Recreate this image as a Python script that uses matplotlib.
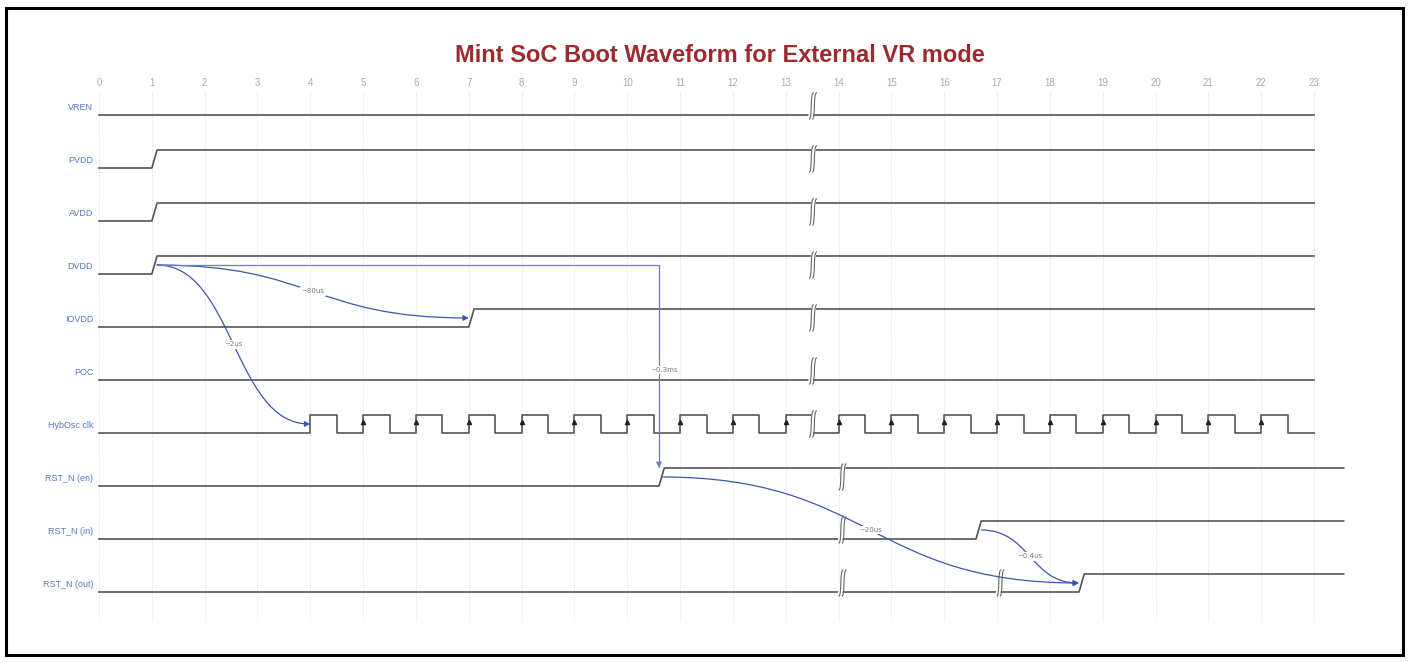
import matplotlib
matplotlib.use("Agg")
import matplotlib.pyplot as plt
from matplotlib.path import Path
from matplotlib.patches import FancyArrowPatch, Rectangle, PathPatch
import numpy as np

# signaux, du haut vers le bas
names = ["VREN", "PVDD", "AVDD", "DVDD", "IOVDD", "POC", "HybOsc clk",
         "RST_N (en)", "RST_N (in)", "RST_N (out)"]
rise_at = [None, 1.0, 1.0, 1.0, 7.0, None, None, 10.6, 16.6, 18.55]
end_at = [23, 23, 23, 23, 23, 23, 23, 23.56, 23.56, 23.56]
clk_row = 6
clk_start = 4.0
clk_stop = 23.0
ticks = list(range(0, 24))

# coupures (temps, ligne)
breaks = [(13.47, r) for r in range(7)] + [(14.03, 7), (14.03, 8), (14.03, 9), (17.02, 9)]

# fleches : (t0, ligne0, t1, ligne1, texte)
arrows = [
    (1.1, 3, 7.0, 4, "~80us"),
    (1.1, 3, 4.0, 6, "~2us"),
    (10.65, 7, 18.55, 9, "~20us"),
    (16.7, 8, 18.55, 9, "~0.4us"),
]
# fleche en equerre DVDD -> RST_N (en)
elbow = (1.1, 3, 10.6, 7, "~0.3ms")

HI = 0.34
wave_col = "#555555"
arr_col = "#3d55b0"
narrow = ["Liberation Sans Narrow", "Liberation Sans"]

fig = plt.figure(figsize=(14.1, 6.62), dpi=100)
ax = fig.add_axes([0, 0, 1, 1])
ax.set_xlim(-99 / 52.83, (1410 - 99) / 52.83)
ax.set_ylim((662 - 115) / 53.0, -115 / 53.0)
ax.axis("off")

fig.patches.append(Rectangle((6 / 1410, 7 / 662), 1397 / 1410, 647 / 662,
                             transform=fig.transFigure, fill=False,
                             lw=2.2, ec="black"))

ax.text(11.75, -1.12, "Mint SoC Boot Waveform for External VR mode",
        ha="center", va="center", fontsize=17, fontweight="bold",
        color="#9e2a30", family=narrow)

# grille
for t in ticks:
    ax.plot([t, t], [-0.43, 9.53], ls=(0, (1, 2)), lw=0.6, color="#cccccc", zorder=0)
    ax.text(t, -0.6, str(t), ha="center", va="center", fontsize=7,
            color="#aaaaaa", family=narrow)

# formes d'onde
for r, name in enumerate(names):
    ax.text(-0.11, r - 0.15, name, ha="right", va="center", fontsize=6.5,
            color="#5676c8", family=narrow)
    lo, hi = r, r - HI
    if r == clk_row:
        xs, ys = [0, clk_start], [lo, lo]
        t = clk_start
        while t < clk_stop:
            xs += [t, t + 0.5, t + 0.5, t + 1.0]
            ys += [hi, hi, lo, lo]
            t += 1.0
        ax.plot(xs, ys, color=wave_col, lw=1.2, zorder=2)
        edges = np.arange(clk_start + 1, clk_stop)
        ax.plot(edges, np.full(len(edges), r - 0.21), ls="none", marker="^",
                ms=3, color="#222222", zorder=3)
    elif rise_at[r] is None:
        ax.plot([0, end_at[r]], [lo, lo], color=wave_col, lw=1.2, zorder=2)
    else:
        t = rise_at[r]
        ax.plot([0, t, t + 0.1, end_at[r]], [lo, lo, hi, hi],
                color=wave_col, lw=1.2, zorder=2)


# coupures en forme de "S" allonge
def s_stroke(x, y0, y1):
    return Path([(x - 0.03, y0), (x + 0.04, y0), (x - 0.02, y1), (x + 0.06, y1)],
                [Path.MOVETO, Path.CURVE4, Path.CURVE4, Path.CURVE4])


for t, r in breaks:
    y0, y1 = r + 0.08, r - 0.42
    ax.fill([t - 0.04, t + 0.04, t + 0.1, t + 0.02], [y0, y1, y1, y0],
            color="white", zorder=4)
    for off in (0.0, 0.06):
        ax.add_patch(PathPatch(s_stroke(t + off, y0, y1), fill=False,
                               ec="#666666", lw=0.8, zorder=5))


def label(x, y, s):
    ax.text(x, y, s, ha="center", va="center", fontsize=5, color="#777777",
            zorder=7, bbox=dict(boxstyle="square,pad=0.15", fc="white", ec="none"))


# fleches courbes
for t0, r0, t1, r1, s in arrows:
    y0, y1 = r0 - 0.17, r1 - 0.17
    dx = (t1 - t0) * 0.5
    p = Path([(t0, y0), (t0 + dx, y0), (t1 - dx, y1), (t1, y1)],
             [Path.MOVETO, Path.CURVE4, Path.CURVE4, Path.CURVE4])
    ax.add_patch(FancyArrowPatch(path=p, arrowstyle="-|>", mutation_scale=8,
                                 color=arr_col, lw=0.9, zorder=6))
    label((t0 + t1) / 2, (y0 + y1) / 2, s)

t0, r0, t1, r1, s = elbow
p = Path([(t0, r0 - 0.17), (t1, r0 - 0.17), (t1, r1 - HI)],
         [Path.MOVETO, Path.LINETO, Path.LINETO])
ax.add_patch(FancyArrowPatch(path=p, arrowstyle="-|>", mutation_scale=8,
                             color="#6f7cc4", lw=0.9, zorder=6))
label(t1 + 0.1, 4.81, s)

fig.savefig("out.png", dpi=100)
